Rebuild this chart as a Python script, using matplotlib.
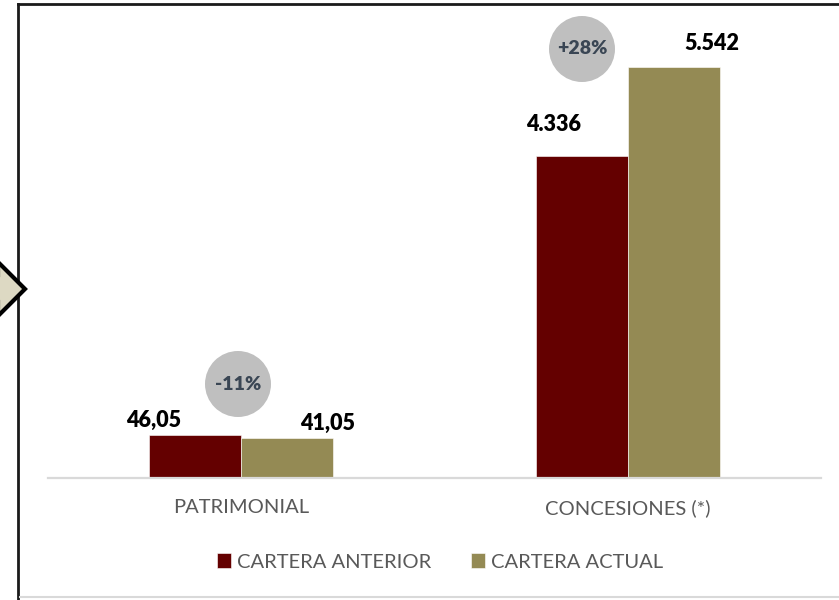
import matplotlib
matplotlib.use("Agg")
import matplotlib.pyplot as plt
from matplotlib.patches import Polygon, Ellipse
from matplotlib.lines import Line2D
import numpy as np

# datos
categorias = ["PATRIMONIAL", "CONCESIONES (*)"]
series = ["CARTERA ANTERIOR", "CARTERA ACTUAL"]
# alturas dibujadas (la serie patrimonial no esta a la misma escala en el original)
altura_anterior = [576, 4336]
altura_actual = [540, 5542]
etiquetas_anterior = ["46,05", "4.336"]
etiquetas_actual = ["41,05", "5.542"]
variaciones = ["-11%", "+28%"]

col_anterior = "#640000"
col_actual = "#948A54"
col_texto = "#595959"

plt.rcParams["font.family"] = ["Lato", "DejaVu Sans"]

W, H = 839, 600
fig = plt.figure(figsize=(W / 100, H / 100), dpi=100)

# ejes en pixeles
x0, x1, ybase, ytop = 48, 821, 478, 20
ax = fig.add_axes([x0 / W, 1 - ybase / H, (x1 - x0) / W, (ybase - ytop) / H])
ymax = 5542 * (ybase - ytop) / (ybase - 67)

x = np.arange(len(categorias))
ancho = 0.238
b1 = ax.bar(x - ancho / 2, altura_anterior, ancho, color=col_anterior,
            edgecolor="white", linewidth=0.4, label=series[0], zorder=2)
b2 = ax.bar(x + ancho / 2, altura_actual, ancho, color=col_actual,
            edgecolor="white", linewidth=0.4, label=series[1], zorder=2)

ax.set_xlim(-0.5, 1.5)
ax.set_ylim(0, ymax)
for s in ["top", "right", "left"]:
    ax.spines[s].set_visible(False)
ax.spines["bottom"].set_color("#D9D9D9")
ax.spines["bottom"].set_linewidth(1.6)
ax.set_yticks([])
ax.set_xticks(x)
ax.set_xticklabels(categorias, fontsize=14.5, color=col_texto)
ax.tick_params(axis="x", length=0, pad=15)

# etiquetas de valor (desplazamientos en pixeles como en el original)
desp_ant = [(-42, 15), (-28, 32)]
desp_act = [(40, 15), (38, 23)]
for i, r in enumerate(b1):
    ax.annotate(etiquetas_anterior[i], (r.get_x() + r.get_width() / 2, r.get_height()),
                xytext=(desp_ant[i][0] * 0.72, desp_ant[i][1] * 0.72), textcoords="offset points",
                ha="center", va="center", fontsize=15.5, fontweight="heavy", color="black")
for i, r in enumerate(b2):
    ax.annotate(etiquetas_actual[i], (r.get_x() + r.get_width() / 2, r.get_height()),
                xytext=(desp_act[i][0] * 0.72, desp_act[i][1] * 0.72), textcoords="offset points",
                ha="center", va="center", fontsize=15.5, fontweight="heavy", color="black")

# circulos de variacion
centros = [(238, 384), (582, 49)]
for (cx, cy), txt in zip(centros, variaciones):
    fig.patches.append(Ellipse((cx / W, 1 - cy / H), 66 / W, 66 / H, transform=fig.transFigure,
                               facecolor="#BFBFBF", edgecolor="none", zorder=3))
    fig.text(cx / W, 1 - cy / H, txt, ha="center", va="center", fontsize=14,
             fontweight="heavy", color="#3A4654", zorder=4)

# leyenda
ax.legend(loc="center", bbox_to_anchor=(440 / W, 1 - 562 / H), bbox_transform=fig.transFigure,
          ncol=2, frameon=False, fontsize=14.5, labelcolor=col_texto,
          handlelength=0.7, handleheight=0.7, handletextpad=0.3, columnspacing=2.0)

# marco
fig.lines.append(Line2D([18 / W, 18 / W], [0, 1 - 4 / H], transform=fig.transFigure,
                        color="#1A1A1A", linewidth=2))
fig.lines.append(Line2D([18 / W, 1], [1 - 4 / H, 1 - 4 / H], transform=fig.transFigure,
                        color="#1A1A1A", linewidth=2))
fig.lines.append(Line2D([20 / W, 1], [1 - 597 / H, 1 - 597 / H], transform=fig.transFigure,
                        color="#D9D9D9", linewidth=1.5))

# flecha a la izquierda
pts = [(-20, 275), (-2, 275), (-2, 262), (25, 289), (-2, 316), (-2, 302), (-20, 302)]
fig.patches.append(Polygon([(px / W, 1 - py / H) for px, py in pts], closed=True,
                           transform=fig.transFigure, facecolor="#DDD9C3",
                           edgecolor="black", linewidth=3, zorder=5))

fig.savefig("out.png", dpi=100)
